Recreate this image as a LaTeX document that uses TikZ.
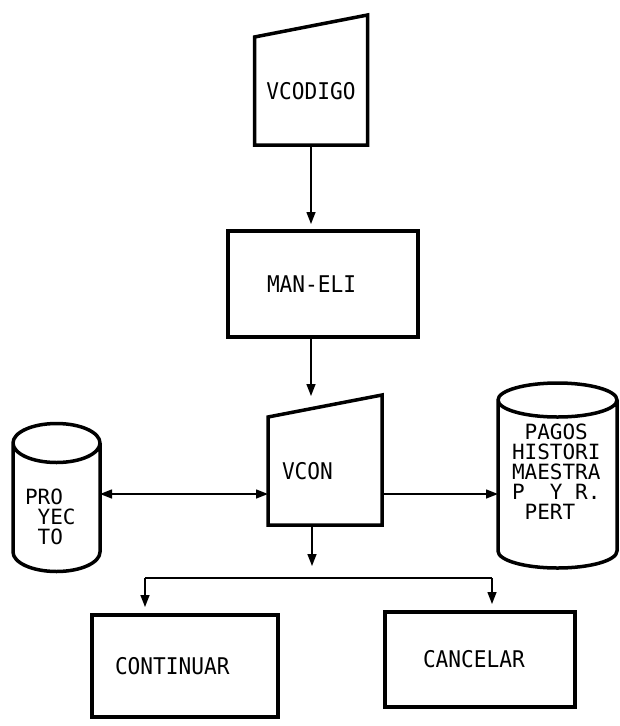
\documentclass[tikz,border=0pt]{standalone}
\usepackage{fontspec}
\newfontfamily\dotfont[FakeStretch=0.92]{DejaVu Sans Mono}
\newfontfamily\drumfont{DejaVu Sans Mono}
\usetikzlibrary{arrows.meta}

\tikzset{
    hold/.style={inner sep=0pt, outer sep=0pt, align=left,
        font={\dotfont\fontsize{23}{20}\selectfont}},
    store/.style={hold, font={\drumfont\fontsize{21}{20}\selectfont}},
    block/.style={hold, draw, line width=4pt},
    edge/.style={line width=3.5pt, line join=miter},
    drum/.style={line width=3.5pt, line join=round},
    link/.style={line width=1.4pt},
    conn/.style={link, -{Triangle[length=12pt,width=9pt]}},
    both/.style={link, {Triangle[length=12pt,width=9pt]}-{Triangle[length=12pt,width=9pt]}}
}

\begin{document}
\begin{tikzpicture}[x=1pt,y=-1pt]
            \useasboundingbox (0,0) rectangle (619,726);

            \node[hold, minimum width=113pt, minimum height=108pt] (VCOD) at (311,91) {VCODIGO};
            \node[block, minimum width=190pt, minimum height=106pt, text width=112pt, inner xsep=39pt] (MAN) at (323,284) {MAN-ELI};
            \node[hold, minimum width=114pt, minimum height=108pt, text width=86pt, inner xsep=14pt] (VCON) at (325,471) {VCON};
            \node[store, minimum width=87pt, minimum height=109pt, text width=63pt, inner xsep=12pt,
                text height=14pt, text depth=0pt] (PRO) at (56.5,497.5)
                {PRO\\\hphantom{P}YEC\\\hphantom{P}TO};
            \node[store, minimum width=119pt, minimum height=151pt, text width=91pt, inner xsep=14pt,
                text height=0pt, text depth=72pt] (PAG) at (557.5,475.5)
                {\hphantom{P}PAGOS\\HISTORI\\MAESTRA\\P\hphantom{PP}Y\hphantom{P}R.\\\hphantom{P}PERT};
            \node[block, minimum width=186pt, minimum height=102pt, text width=140pt, inner xsep=23pt] (CON) at (185,666) {CONTINUAR};
            \node[block, minimum width=190pt, minimum height=95pt, text width=114pt, inner xsep=38pt] (CAN) at (480,659.5) {CANCELAR};

            \foreach \N in {VCOD,VCON}{
                \draw[edge] (\N.north west) -- ([yshift=22pt]\N.north east)
                    -- (\N.south east) -- (\N.south west) -- cycle;
            }

            \foreach \N/\rx/\ry in {PRO/43.5/19.5,PAG/59.5/17}{
                \draw[drum] (\N.north west) -- (\N.south west)
                    arc[start angle=180,end angle=360,x radius=\rx pt,y radius=\ry pt]
                    -- (\N.north east)
                    arc[start angle=0,end angle=-180,x radius=\rx pt,y radius=\ry pt]
                    arc[start angle=180,end angle=0,x radius=\rx pt,y radius=\ry pt];
            }

            \coordinate (A) at (311,396);
            \coordinate (B) at (312,566);
            \coordinate (L) at (145,578);
            \coordinate (R) at (492,578);
            \coordinate (H) at (0,494);

            \draw[conn, shorten >=7pt] (VCOD.south) -- (VCOD.south |- MAN.north);
            \draw[conn] (A |- MAN.south) -- (A);
            \draw[conn] (B |- VCON.south) -- (B);
            \draw[link] (L) -- (R);
            \draw[conn, shorten >=8pt] (L) -- (L |- CON.north);
            \draw[conn, shorten >=8pt] (R) -- (R |- CAN.north);
            \draw[both] (H -| PRO.east) -- (H -| VCON.west);
            \draw[conn] (H -| VCON.east) -- (H -| PAG.west);
        \end{tikzpicture}
\end{document}
